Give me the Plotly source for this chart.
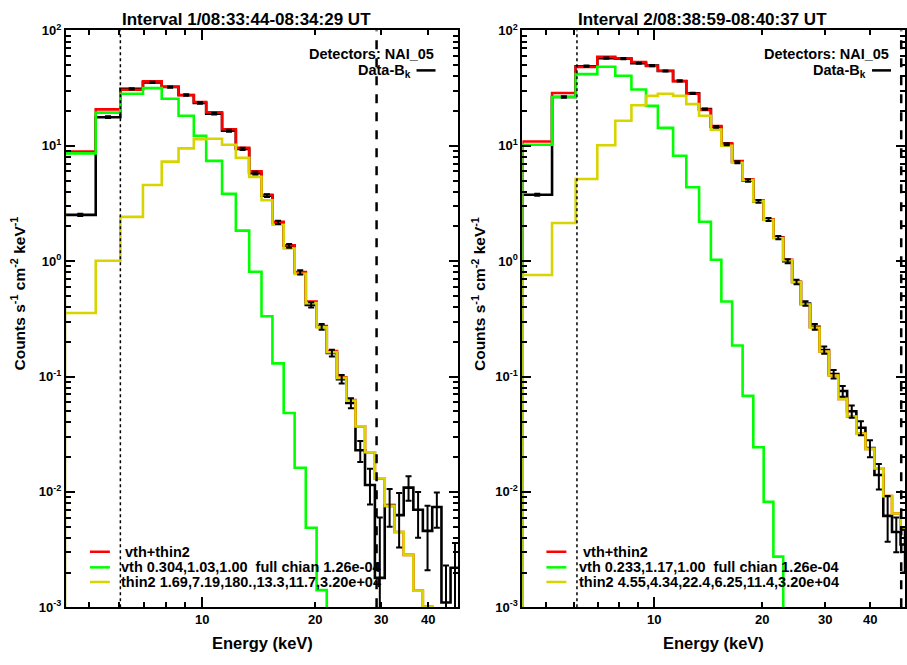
import numpy as np
import plotly.graph_objects as go

# ---------------- data ----------------
edges = [4.30, 5.20, 6.05, 6.95, 7.80, 8.65, 9.50, 10.25, 11.3, 12.3, 13.35, 14.4, 15.4,
         16.5, 17.65, 18.9, 20.2, 21.5, 22.9, 24.25, 25.65, 27.2, 28.9, 30.7, 32.6, 34.5,
         36.6, 38.8, 41.1, 43.5, 46.0, 48.6, 51.3]

# Interval 1
p1_total = [8.9, 20.7, 30.6, 36.2, 32.6, 27.4, 24.0, 19.5, 13.9, 9.6, 6.0, 3.77, 2.20, 1.37,
            0.807, 0.447, 0.274, 0.166, 0.0986, 0.0626, 0.037, 0.0221, 0.0131, 0.00757,
            0.0045, 0.00285, 0.00139, 0.00101, 0.0006, 0.0003, 0.00015, 0.00008]
p1_vth = [8.6, 19.4, 28.3, 31.6, 25.6, 18.2, 12.2, 7.4, 3.83, 1.84, 0.81, 0.333, 0.130,
          0.0483, 0.0162, 0.00489, 0.00141, 0.0004, 0.0001, 0.00003, 0.00001, 0.000003,
          0.000001, 0.0000003, 0.0000001, 0.0000001, 0.0000001, 0.0000001, 0.0000001,
          0.0000001, 0.0000001, 0.0000001]
p1_thin = [0.356, 1.01, 2.42, 4.58, 7.3, 9.5, 11.4, 11.5, 10.2, 7.86, 5.38, 3.37, 2.07, 1.29,
           0.776, 0.433, 0.267, 0.163, 0.0975, 0.0618, 0.037, 0.0221, 0.0131, 0.00757,
           0.0045, 0.00285, 0.00139, 0.00101, 0.0006, 0.0003, 0.00015, 0.00008]
p1_data = [2.52, 17.7, 31.2, 35.5, 32.3, 27.6, 23.5, 19.0, 13.5, 9.4, 5.8, 3.7, 2.17, 1.36,
           0.80, 0.418, 0.27, 0.16, 0.095, 0.059, 0.023, 0.0115, 0.0018, 0.0077, 0.0063,
           0.0109, 0.0070, 0.0046, 0.0074, 0.0011, 0.0022, 0.0020]
p1_err_hi = [0.06, 0.3, 0.4, 0.4, 0.4, 0.4, 0.35, 0.3, 0.25, 0.2, 0.15, 0.1, 0.07, 0.05,
             0.035, 0.022, 0.016, 0.011, 0.008, 0.006, 0.0047, 0.0044, 0.0042, 0.0029,
             0.0035, 0.0028, 0.0030, 0.0030, 0.0025, 0.0012, 0.0014, 0.001]
p1_err_lo = [0.06, 0.3, 0.4, 0.4, 0.4, 0.4, 0.35, 0.3, 0.25, 0.2, 0.15, 0.1, 0.07, 0.05,
             0.035, 0.022, 0.016, 0.011, 0.008, 0.006, 0.0048, 0.0037, 0.0017, 0.0027,
             0.0030, 0.0025, 0.0030, 0.0025, 0.0025, 0.0006, 0.0016, 0.001]

# Interval 2
p2_total = [10.9, 28.7, 48.3, 59.0, 57.2, 53.3, 49.2, 44.7, 36.3, 28.3, 20.5, 14.8, 10.5,
            7.36, 5.12, 3.35, 2.31, 1.60, 1.03, 0.664, 0.42, 0.265, 0.165, 0.102, 0.064,
            0.045, 0.032, 0.0236, 0.016, 0.0092, 0.0065, 0.0048]
p2_vth = [10.2, 26.5, 41.8, 48.5, 40.5, 30.8, 22.2, 14.3, 8.2, 4.38, 2.2, 1.03, 0.447,
          0.186, 0.068, 0.0244, 0.0082, 0.00275, 0.0008, 0.0002, 0.00005, 0.00001,
          0.000003, 0.000001, 0.0000003, 0.0000001, 0.0000001, 0.0000001, 0.0000001,
          0.0000001, 0.0000001, 0.0000001]
p2_thin = [0.76, 2.14, 5.15, 10.1, 16.5, 22.5, 27.1, 28.3, 27.1, 23.0, 18.2, 13.8, 10.0,
           7.13, 5.05, 3.3, 2.28, 1.58, 1.02, 0.66, 0.42, 0.265, 0.165, 0.102, 0.064,
           0.045, 0.032, 0.0236, 0.016, 0.0092, 0.0065, 0.0048]
p2_data = [3.77, 26.5, 49.0, 57.6, 57.0, 52.0, 49.5, 44.5, 36.5, 28.5, 20.8, 14.6, 10.3,
           7.2, 5.0, 3.3, 2.3, 1.6, 1.0, 0.66, 0.43, 0.27, 0.17, 0.105, 0.075, 0.050,
           0.036, 0.024, 0.0140, 0.0062, 0.0045, 0.0035]
p2_err_hi = [0.08, 0.4, 0.6, 0.7, 0.7, 0.6, 0.6, 0.5, 0.45, 0.4, 0.3, 0.25, 0.2, 0.15,
             0.12, 0.09, 0.07, 0.05, 0.04, 0.03, 0.02, 0.015, 0.012, 0.009, 0.008, 0.006,
             0.005, 0.004, 0.0035, 0.003, 0.0015, 0.0012]
p2_err_lo = [0.08, 0.4, 0.6, 0.7, 0.7, 0.6, 0.6, 0.5, 0.45, 0.4, 0.3, 0.25, 0.2, 0.15,
             0.12, 0.09, 0.07, 0.05, 0.04, 0.03, 0.02, 0.015, 0.012, 0.009, 0.008, 0.006,
             0.005, 0.004, 0.0035, 0.0025, 0.0015, 0.0015]

titles = ["Interval 1/08:33:44-08:34:29 UT", "Interval 2/08:38:59-08:40:37 UT"]
legend_total = "\u00a0vth+thin2"
legend_vth = ["vth 0.304,1.03,1.00\u00a0\u00a0full chian 1.26e-04",
              "vth 0.233,1.17,1.00\u00a0\u00a0full chian 1.26e-04"]
legend_thin = ["thin2 1.69,7.19,180.,13.3,11.7,3.20e+04",
               "thin2 4.55,4.34,22.4,6.25,11.4,3.20e+04"]
dotted_e = [6.05, 6.1]
dashed_e = [29.2, 48.8]
x_ranges = [(4.33, 48.3), (4.3, 50.0)]

ytick_vals = [1e-3, 1e-2, 1e-1, 1, 10, 100]
ytick_text = ["10<sup>-3</sup>", "10<sup>-2</sup>", "10<sup>-1</sup>", "10<sup>0</sup>",
              "10<sup>1</sup>", "10<sup>2</sup>"]
xtick_vals = [10, 20, 30, 40]
xtick_text = ["10", "20", "30", "40"]

# ---------------- layout helpers ----------------
W, H = 907, 665
def px(x):
    return x / W
def py(y):
    return 1 - y / H

FONT = "Liberation Sans, Arial, Helvetica, sans-serif"
RED, GREEN, YEL = "#ff0000", "#00ff00", "#d8d400"

fig = go.Figure()

def step_xy(vals, floor=1e-7):
    xs = [edges[0]] + list(edges[:len(vals)]) + [edges[len(vals)]]
    ys = [floor] + list(vals) + [vals[-1]]
    return xs, ys

panels = [
    dict(total=p1_total, vth=p1_vth, thin=p1_thin, data=p1_data, ehi=p1_err_hi, elo=p1_err_lo,
         xa="x", ya="y", dom=(66, 459)),
    dict(total=p2_total, vth=p2_vth, thin=p2_thin, data=p2_data, ehi=p2_err_hi, elo=p2_err_lo,
         xa="x2", ya="y2", dom=(523, 906)),
]

centers = [float(np.sqrt(edges[i] * edges[i + 1])) for i in range(len(edges) - 1)]

for i, p in enumerate(panels):
    dx, dy = step_xy(p["data"])
    fig.add_trace(go.Scatter(x=dx[1:], y=dy[1:], mode="lines", line_shape="hv",
                             line=dict(color="black", width=2.6), xaxis=p["xa"], yaxis=p["ya"],
                             showlegend=False, hoverinfo="skip"))
    for key, col in (("total", RED), ("vth", GREEN), ("thin", YEL)):
        sx, sy = step_xy(p[key])
        fig.add_trace(go.Scatter(x=sx, y=sy, mode="lines", line_shape="hv",
                                 line=dict(color=col, width=2.6), xaxis=p["xa"], yaxis=p["ya"],
                                 showlegend=False, hoverinfo="skip"))
    fig.add_trace(go.Scatter(x=centers[:len(p["data"])], y=p["data"], mode="markers",
                             marker=dict(size=1, color="black"),
                             error_y=dict(type="data", symmetric=False, array=p["ehi"],
                                          arrayminus=p["elo"], color="black", thickness=2,
                                          width=3),
                             xaxis=p["xa"], yaxis=p["ya"], showlegend=False, hoverinfo="skip"))

minor_y = [m * 10 ** d for d in range(-3, 2) for m in range(2, 10)]
minor_x = [5, 6, 7, 8, 9, 20, 30, 40]

y_top, y_bot = 22, 614
axis_common = dict(showgrid=False, zeroline=False, showline=True, linecolor="black",
                   linewidth=2, mirror="allticks", ticks="inside", tickwidth=1.5,
                   tickcolor="black")
tickfont = dict(family=FONT, size=13, color="black", weight="bold")

layout = dict(width=W, height=H, margin=dict(l=0, r=0, t=0, b=0),
              plot_bgcolor="white", paper_bgcolor="white", showlegend=False)
for i, p in enumerate(panels):
    sfx = "" if i == 0 else "2"
    x0, x1 = p["dom"]
    layout["xaxis" + sfx] = dict(axis_common, type="log",
                                 range=[np.log10(x_ranges[i][0]), np.log10(x_ranges[i][1])],
                                 domain=[px(x0), px(x1)], anchor="y" + sfx,
                                 tickvals=[10], ticktext=[""], ticklen=10,
                                 minor=dict(tickvals=minor_x, ticks="inside", ticklen=5,
                                            tickwidth=1.5, tickcolor="black", showgrid=False))
    layout["yaxis" + sfx] = dict(axis_common, type="log", range=[-3, 2],
                                 domain=[py(y_bot), py(y_top)], anchor="x" + sfx,
                                 tickvals=ytick_vals, ticktext=ytick_text, ticklen=9,
                                 tickfont=tickfont,
                                 minor=dict(tickvals=minor_y, ticks="inside", ticklen=5,
                                            tickwidth=1.5, tickcolor="black", showgrid=False))
fig.update_layout(**layout)

ann = []
shapes = []
title_x = [247, 703]
ytitle_x = [18, 479]
leg_line_x = [(90, 110), (547, 567)]
leg_text_x = [119, 578]
det_right = [436, 892]
for i, p in enumerate(panels):
    sfx = "" if i == 0 else "2"
    x0, x1 = p["dom"]
    xr = "x" + sfx
    lo = np.log10(x_ranges[i][0]); hi = np.log10(x_ranges[i][1])
    for v, t in zip(xtick_vals, xtick_text):
        fx = x0 + (np.log10(v) - lo) / (hi - lo) * (x1 - x0)
        ann.append(dict(x=px(fx), y=py(627), xref="paper", yref="paper", text=t,
                        showarrow=False, font=tickfont, xanchor="center", yanchor="middle"))
    ann.append(dict(x=px(title_x[i]), y=py(11), xref="paper", yref="paper",
                    text="<b>" + titles[i] + "</b>", showarrow=False,
                    font=dict(family=FONT, size=17, color="black"), xanchor="center",
                    yanchor="middle"))
    ann.append(dict(x=px((x0 + x1) / 2), y=py(651), xref="paper", yref="paper",
                    text="<b>Energy (keV)</b>", showarrow=False,
                    font=dict(family=FONT, size=16.5, color="black"), xanchor="center",
                    yanchor="middle"))
    ann.append(dict(x=px(ytitle_x[i]), y=py(292), xref="paper", yref="paper",
                    text="<b>Counts s<sup>-1</sup> cm<sup>-2</sup> keV<sup>-1</sup></b>",
                    showarrow=False, textangle=-90,
                    font=dict(family=FONT, size=15.5, color="black"), xanchor="center",
                    yanchor="middle"))
    ann.append(dict(x=px(det_right[i]), y=py(46), xref="paper", yref="paper",
                    text="<b>Detectors: NAI_05</b>", showarrow=False,
                    font=dict(family=FONT, size=14.5, color="black"), xanchor="right",
                    yanchor="middle"))
    ann.append(dict(x=px(det_right[i] - 23), y=py(64), xref="paper", yref="paper",
                    text="<b>Data-B<sub>k</sub></b>", showarrow=False,
                    font=dict(family=FONT, size=14.5, color="black"), xanchor="right",
                    yanchor="middle"))
    shapes.append(dict(type="line", xref="paper", yref="paper", x0=px(det_right[i] - 19),
                       x1=px(det_right[i]), y0=py(63), y1=py(63),
                       line=dict(color="black", width=2.5)))
    leg = [(legend_total, RED), (legend_vth[i], GREEN), (legend_thin[i], YEL)]
    for k, (t, c) in enumerate(leg):
        yy = [557, 573, 588][k]
        shapes.append(dict(type="line", xref="paper", yref="paper",
                           x0=px(leg_line_x[i][0]), x1=px(leg_line_x[i][1]),
                           y0=py(yy), y1=py(yy), line=dict(color=c, width=2.5)))
        ann.append(dict(x=px(leg_text_x[i]), y=py(yy), xref="paper", yref="paper",
                        text="<b>" + t + "</b>",
                        showarrow=False, font=dict(family=FONT, size=14.5, color="black"),
                        xanchor="left", yanchor="middle"))
    shapes.append(dict(type="line", xref=xr, yref="y" + sfx + " domain", x0=dotted_e[i],
                       x1=dotted_e[i], y0=0, y1=1, line=dict(color="black", width=1.5,
                                                              dash="dot")))
    shapes.append(dict(type="line", xref=xr, yref="y" + sfx + " domain", x0=dashed_e[i],
                       x1=dashed_e[i], y0=0, y1=1, line=dict(color="black", width=2.5,
                                                              dash="dash")))

fig.update_layout(annotations=ann, shapes=shapes)
fig.write_html("out.html")
